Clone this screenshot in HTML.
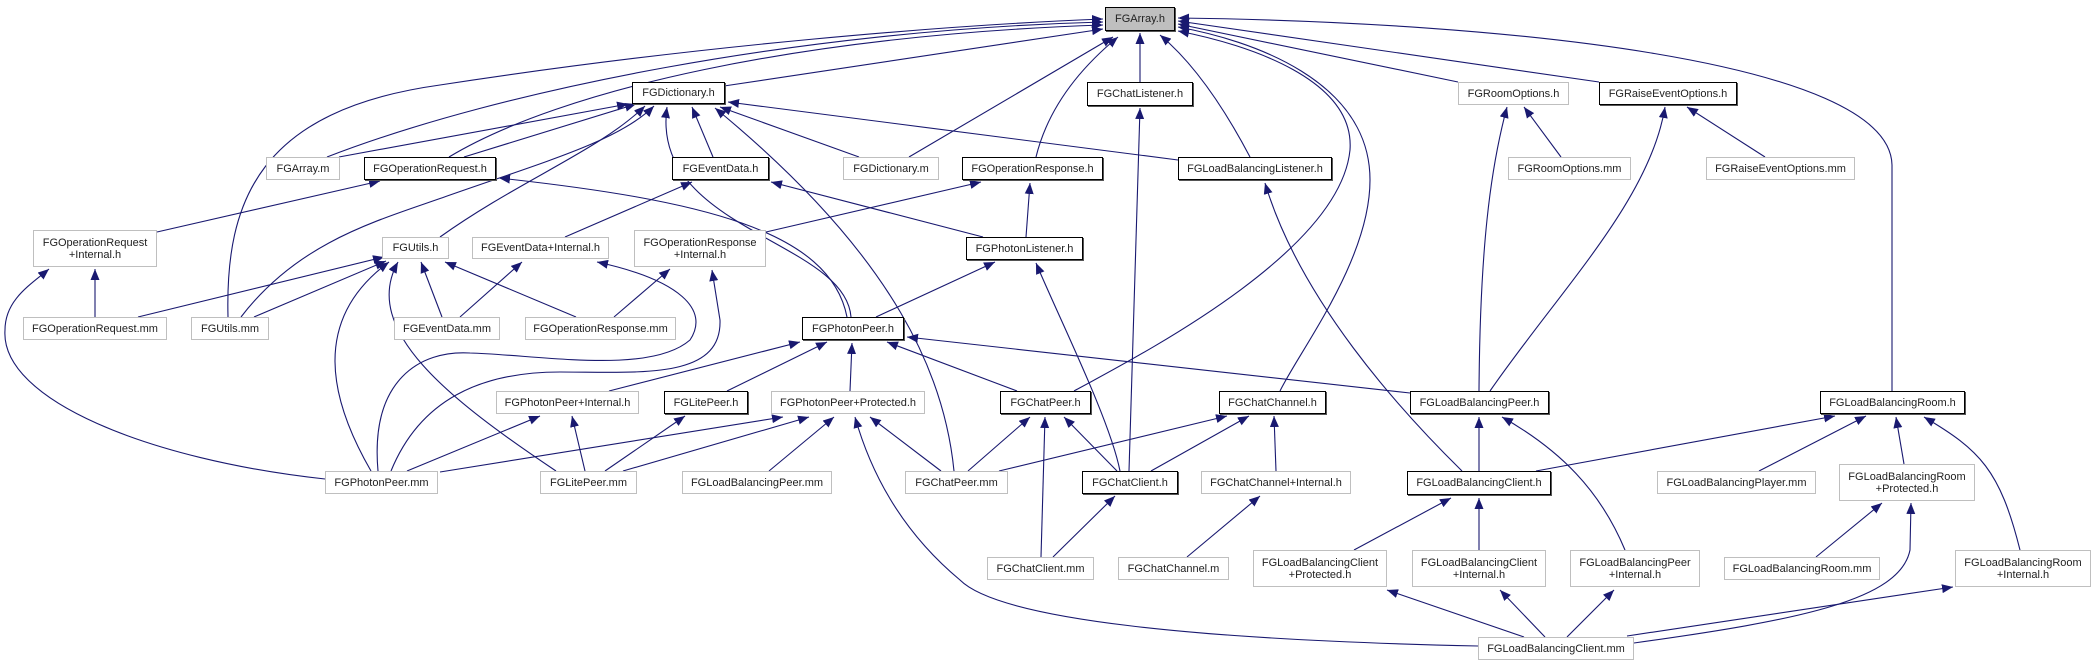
<!DOCTYPE html>
<html><head><meta charset="utf-8"><style>
html,body{margin:0;padding:0;background:#fff}
#c{position:relative;width:2095px;height:667px;overflow:hidden;background:#fff}
svg{position:absolute;left:0;top:0}
.b{position:absolute;box-sizing:border-box;background:#fff;display:flex;align-items:center;justify-content:center;text-align:center;font-family:"Liberation Sans",Arial,sans-serif;font-size:11px;line-height:12px;color:#222;white-space:nowrap}
.k{border:1px solid #000;box-shadow:1px 1px 0 #555}
.g{border:1px solid #bfbfbf}
</style></head><body><div id="c">
<svg width="2095" height="667" viewBox="0 0 2095 667">
<defs><marker id="a" markerUnits="userSpaceOnUse" markerWidth="12" markerHeight="10" refX="11" refY="4.5" orient="auto"><path d="M0,0 L11,4.5 L0,9 z" fill="#191970"/></marker></defs>
<g fill="none" stroke="#191970" stroke-width="1.1" marker-end="url(#a)">
<path d="M327,157 C500,90 800,30 1103,22"/>
<path d="M449,157 C560,90 800,35 1103,25"/>
<path d="M228,317 C225,200 260,110 440,85 C700,45 950,25 1103,19"/>
<path d="M724,86 L1103,29"/>
<path d="M909,157 L1113,37"/>
<path d="M1140,82 L1140,33"/>
<path d="M1036,157 C1050,100 1090,60 1118,37"/>
<path d="M1250,157 C1220,100 1190,60 1160,35"/>
<path d="M1074,391 C1150,350 1340,250 1350,150 C1355,80 1250,45 1178,31"/>
<path d="M1280,391 C1300,350 1370,260 1370,180 C1370,80 1250,40 1178,27"/>
<path d="M1458,82 L1178,24"/>
<path d="M1599,82 L1178,21"/>
<path d="M1892,391 L1892,165 C1890,60 1500,22 1178,18"/>
<path d="M339,157 L628,104"/>
<path d="M464,157 L636,104"/>
<path d="M440,237 C520,180 600,150 645,106"/>
<path d="M241,317 C300,240 380,220 450,195 C550,160 620,140 654,106"/>
<path d="M713,157 L692,107"/>
<path d="M851,317 C845,240 650,230 667,107"/>
<path d="M859,157 L720,107"/>
<path d="M1178,160 L728,102"/>
<path d="M954,471 C945,380 900,260 715,108"/>
<path d="M157,232 L380,181"/>
<path d="M847,317 C830,230 700,200 499,178"/>
<path d="M565,237 L692,182"/>
<path d="M983,237 L771,182"/>
<path d="M766,232 L981,182"/>
<path d="M1026,237 L1030,183"/>
<path d="M95,317 L95,269"/>
<path d="M325,479 C150,460 0,400 5,330 C5,300 30,285 49,269"/>
<path d="M138,317 L384,257"/>
<path d="M254,317 L386,261"/>
<path d="M371,471 C330,400 310,320 389,262"/>
<path d="M556,471 C450,400 360,330 398,262"/>
<path d="M442,317 L421,262"/>
<path d="M576,317 L445,262"/>
<path d="M460,317 L522,262"/>
<path d="M378,471 C370,380 420,350 470,353 C540,355 650,375 690,340 C710,310 680,280 597,262"/>
<path d="M391,471 C420,400 480,372 560,372 C640,372 722,380 720,320 L712,270"/>
<path d="M614,317 L670,269"/>
<path d="M876,317 L995,262"/>
<path d="M1120,471 C1110,420 1060,320 1036,263"/>
<path d="M1129,471 L1140,108"/>
<path d="M1462,471 C1400,410 1300,300 1265,183"/>
<path d="M609,391 L800,342"/>
<path d="M727,391 L827,342"/>
<path d="M850,391 L852,343"/>
<path d="M1017,391 L887,342"/>
<path d="M1410,393 L907,337"/>
<path d="M407,471 L540,416"/>
<path d="M585,471 L572,416"/>
<path d="M605,471 L685,416"/>
<path d="M440,472 L783,417"/>
<path d="M623,471 L809,417"/>
<path d="M769,471 L834,417"/>
<path d="M941,471 L870,417"/>
<path d="M1478,646 C1200,640 1000,620 960,580 C900,530 870,470 855,417"/>
<path d="M968,471 L1030,417"/>
<path d="M1041,557 L1045,417"/>
<path d="M1117,471 L1064,417"/>
<path d="M999,471 L1227,416"/>
<path d="M1151,471 L1249,416"/>
<path d="M1276,471 L1274,416"/>
<path d="M1053,557 L1115,496"/>
<path d="M1187,557 L1260,496"/>
<path d="M1561,157 L1524,107"/>
<path d="M1479,391 C1480,250 1490,170 1507,107"/>
<path d="M1765,157 L1687,107"/>
<path d="M1490,391 C1560,290 1650,200 1665,107"/>
<path d="M1479,471 L1479,417"/>
<path d="M1625,550 C1600,490 1560,450 1502,417"/>
<path d="M1536,471 L1835,416"/>
<path d="M1759,471 L1866,416"/>
<path d="M1904,464 L1896,417"/>
<path d="M2020,550 C2000,470 1980,450 1924,417"/>
<path d="M1354,550 L1451,498"/>
<path d="M1479,550 L1479,498"/>
<path d="M1816,557 L1882,503"/>
<path d="M1634,643 C1800,620 1900,600 1910,550 L1911,503"/>
<path d="M1524,637 L1387,590"/>
<path d="M1545,637 L1500,590"/>
<path d="M1567,637 L1614,590"/>
<path d="M1627,636 L1953,587"/>
</g></svg>
<div class="b k" style="left:1105px;top:7px;width:70px;height:24px;background:#bfbfbf">FGArray.h</div>
<div class="b k" style="left:632px;top:82px;width:93px;height:22px">FGDictionary.h</div>
<div class="b k" style="left:1087px;top:82px;width:106px;height:24px">FGChatListener.h</div>
<div class="b g" style="left:1458px;top:82px;width:111px;height:23px">FGRoomOptions.h</div>
<div class="b k" style="left:1599px;top:82px;width:138px;height:23px">FGRaiseEventOptions.h</div>
<div class="b g" style="left:266px;top:157px;width:74px;height:23px">FGArray.m</div>
<div class="b k" style="left:364px;top:157px;width:132px;height:23px">FGOperationRequest.h</div>
<div class="b k" style="left:672px;top:157px;width:97px;height:23px">FGEventData.h</div>
<div class="b g" style="left:843px;top:157px;width:96px;height:23px">FGDictionary.m</div>
<div class="b k" style="left:962px;top:157px;width:141px;height:23px">FGOperationResponse.h</div>
<div class="b k" style="left:1178px;top:157px;width:154px;height:23px">FGLoadBalancingListener.h</div>
<div class="b g" style="left:1508px;top:157px;width:123px;height:23px">FGRoomOptions.mm</div>
<div class="b g" style="left:1706px;top:157px;width:149px;height:23px">FGRaiseEventOptions.mm</div>
<div class="b g" style="left:33px;top:230px;width:124px;height:37px">FGOperationRequest<br>+Internal.h</div>
<div class="b g" style="left:382px;top:237px;width:67px;height:22px">FGUtils.h</div>
<div class="b g" style="left:472px;top:237px;width:137px;height:22px">FGEventData+Internal.h</div>
<div class="b g" style="left:634px;top:230px;width:132px;height:37px">FGOperationResponse<br>+Internal.h</div>
<div class="b k" style="left:966px;top:237px;width:117px;height:23px">FGPhotonListener.h</div>
<div class="b g" style="left:23px;top:317px;width:144px;height:23px">FGOperationRequest.mm</div>
<div class="b g" style="left:191px;top:317px;width:78px;height:23px">FGUtils.mm</div>
<div class="b g" style="left:394px;top:317px;width:106px;height:23px">FGEventData.mm</div>
<div class="b g" style="left:525px;top:317px;width:151px;height:23px">FGOperationResponse.mm</div>
<div class="b k" style="left:802px;top:317px;width:102px;height:23px">FGPhotonPeer.h</div>
<div class="b g" style="left:496px;top:391px;width:143px;height:23px">FGPhotonPeer+Internal.h</div>
<div class="b k" style="left:664px;top:391px;width:84px;height:23px">FGLitePeer.h</div>
<div class="b g" style="left:771px;top:391px;width:154px;height:23px">FGPhotonPeer+Protected.h</div>
<div class="b k" style="left:1000px;top:391px;width:91px;height:23px">FGChatPeer.h</div>
<div class="b k" style="left:1219px;top:391px;width:107px;height:23px">FGChatChannel.h</div>
<div class="b k" style="left:1410px;top:391px;width:139px;height:23px">FGLoadBalancingPeer.h</div>
<div class="b k" style="left:1820px;top:391px;width:145px;height:23px">FGLoadBalancingRoom.h</div>
<div class="b g" style="left:325px;top:471px;width:113px;height:23px">FGPhotonPeer.mm</div>
<div class="b g" style="left:540px;top:471px;width:97px;height:23px">FGLitePeer.mm</div>
<div class="b g" style="left:682px;top:471px;width:150px;height:23px">FGLoadBalancingPeer.mm</div>
<div class="b g" style="left:905px;top:471px;width:103px;height:23px">FGChatPeer.mm</div>
<div class="b k" style="left:1082px;top:471px;width:96px;height:23px">FGChatClient.h</div>
<div class="b g" style="left:1201px;top:471px;width:150px;height:23px">FGChatChannel+Internal.h</div>
<div class="b k" style="left:1407px;top:471px;width:144px;height:24px">FGLoadBalancingClient.h</div>
<div class="b g" style="left:1657px;top:471px;width:159px;height:23px">FGLoadBalancingPlayer.mm</div>
<div class="b g" style="left:1839px;top:464px;width:136px;height:37px">FGLoadBalancingRoom<br>+Protected.h</div>
<div class="b g" style="left:987px;top:557px;width:107px;height:23px">FGChatClient.mm</div>
<div class="b g" style="left:1118px;top:557px;width:111px;height:23px">FGChatChannel.m</div>
<div class="b g" style="left:1253px;top:550px;width:134px;height:37px">FGLoadBalancingClient<br>+Protected.h</div>
<div class="b g" style="left:1412px;top:550px;width:134px;height:37px">FGLoadBalancingClient<br>+Internal.h</div>
<div class="b g" style="left:1570px;top:550px;width:130px;height:37px">FGLoadBalancingPeer<br>+Internal.h</div>
<div class="b g" style="left:1724px;top:557px;width:156px;height:23px">FGLoadBalancingRoom.mm</div>
<div class="b g" style="left:1955px;top:550px;width:136px;height:37px">FGLoadBalancingRoom<br>+Internal.h</div>
<div class="b g" style="left:1478px;top:637px;width:156px;height:23px">FGLoadBalancingClient.mm</div>
</div></body></html>
